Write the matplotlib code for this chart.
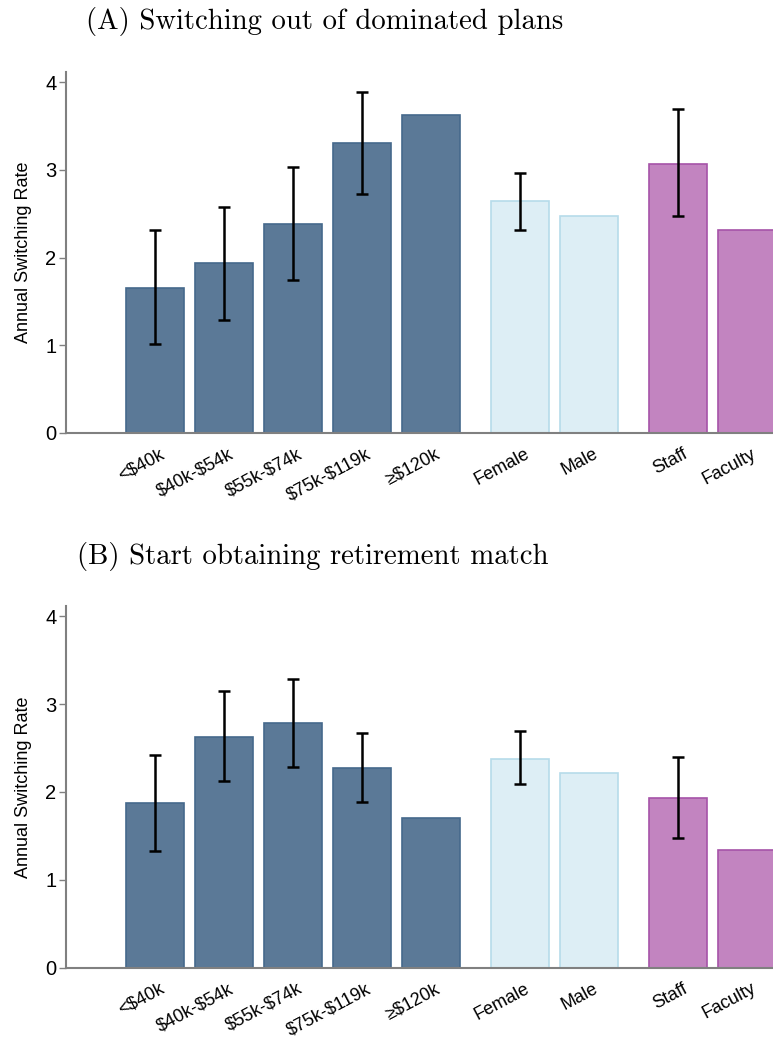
import numpy as np
import matplotlib
matplotlib.use('Agg')
import matplotlib.pyplot as plt
from matplotlib.transforms import ScaledTranslation

plt.rcParams['font.family'] = ['Liberation Sans', 'DejaVu Sans']
plt.rcParams['text.parse_math'] = False

# categories and groups
labels = ['<$40k', '$40k-$54k', '$55k-$74k', '$75k-$119k', '≥$120k',
          'Female', 'Male', 'Staff', 'Faculty']
group_sizes = [5, 2, 2]

# panel A: switching out of dominated plans
vals_a = [1.65, 1.94, 2.38, 3.31, 3.63, 2.64, 2.47, 3.07, 2.31]
lo_a = [1.01, 1.29, 1.74, 2.72, None, 2.31, None, 2.47, None]
hi_a = [2.31, 2.58, 3.03, 3.89, None, 2.96, None, 3.69, None]

# panel B: start obtaining retirement match
vals_b = [1.87, 2.63, 2.78, 2.27, 1.70, 2.38, 2.22, 1.93, 1.34]
lo_b = [1.33, 2.12, 2.28, 1.88, None, 2.09, None, 1.47, None]
hi_b = [2.42, 3.15, 3.28, 2.67, None, 2.69, None, 2.40, None]

fills = ['#5b7997', '#ddeef5', '#c284c0']
edges = ['#46698c', '#b6dbea', '#a653a8']

# bar positions: unit spacing within group, extra gap between groups
pos, fc, ec = [], [], []
x = 1.0
for g, n in enumerate(group_sizes):
    for i in range(n):
        pos.append(x)
        fc.append(fills[g])
        ec.append(edges[g])
        x += 1
    x += 0.29
pos = np.array(pos)

fig = plt.figure(figsize=(7.73, 10.38), dpi=100)
W, H = 773, 1038


def panel(rect, vals, lo, hi, title, tx, ty):
    ax = fig.add_axes(rect)
    ax.bar(pos, vals, width=0.84, color=fc, edgecolor=ec, linewidth=1.2, zorder=2)
    idx = [i for i in range(len(vals)) if lo[i] is not None]
    mid = [(lo[i] + hi[i]) / 2 for i in idx]
    err = [(hi[i] - lo[i]) / 2 for i in idx]
    ax.errorbar(pos[idx], mid, yerr=err, fmt='none', ecolor='black',
                elinewidth=1.8, capsize=4.3, capthick=1.8, zorder=3)
    ax.set_xlim(-0.29, 9.957)
    ax.set_ylim(0, 4.115)
    ax.set_yticks([0, 1, 2, 3, 4])
    ax.tick_params(axis='y', length=5, width=1, color='#808080', pad=2, labelsize=14.5)
    ax.tick_params(axis='x', length=0, pad=9, labelsize=13)
    ax.set_xticks(pos)
    ax.set_xticklabels(labels, rotation=28, ha='right', va='top', rotation_mode='anchor')
    off = ScaledTranslation(4 / 100, 0, fig.dpi_scale_trans)
    for t in ax.get_xticklabels():
        t.set_transform(t.get_transform() + off)
    for s in ['top', 'right']:
        ax.spines[s].set_visible(False)
    for s in ['left', 'bottom']:
        ax.spines[s].set_color('#808080')
        ax.spines[s].set_linewidth(1.5)
    ax.set_ylabel('Annual Switching Rate', fontsize=13)
    ax.yaxis.set_label_coords(-0.048, 0.5)
    fig.text(tx / W, 1 - ty / H, title, family='cmr10', fontsize=20.7, va='center')
    return ax


panel([66 / W, 1 - 433 / H, 1 - 66 / W, (433 - 72) / H], vals_a, lo_a, hi_a,
      '(A) Switching out of dominated plans', 86, 21)
panel([66 / W, 1 - 967.7 / H, 1 - 66 / W, (967.7 - 606) / H], vals_b, lo_b, hi_b,
      '(B) Start obtaining retirement match', 77, 556)

plt.savefig('out.png', dpi=100)
